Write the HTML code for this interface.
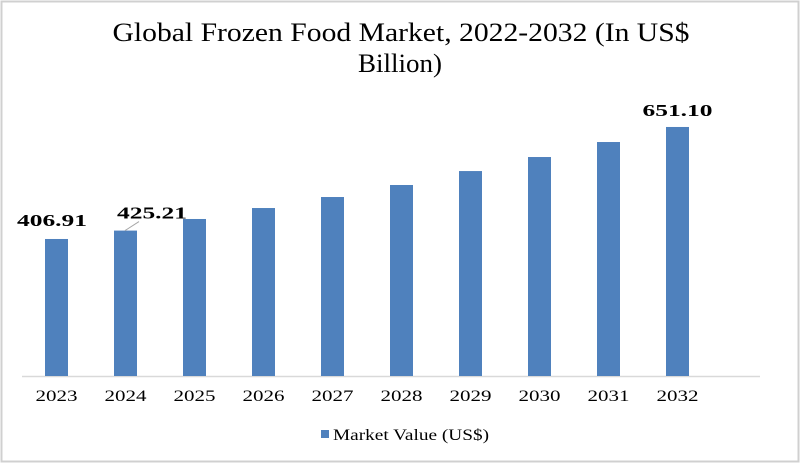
<!DOCTYPE html>
<html><head><meta charset="utf-8"><style>
html,body{margin:0;padding:0;background:#fff}
#c{position:relative;width:800px;height:463px}
</style></head><body>
<div id="c">
<svg id="s" width="800" height="463" xmlns="http://www.w3.org/2000/svg" font-family="'Liberation Serif', serif">
<rect x="1.5" y="1.5" width="797" height="460" fill="#fff" stroke="#d0d0d0" stroke-width="2"/>
<text text-anchor="middle" font-size="26" fill="#000"><tspan x="401" y="41" textLength="577" lengthAdjust="spacingAndGlyphs">Global Frozen Food Market, 2022-2032 (In US$</tspan><tspan x="400" y="72" textLength="84" lengthAdjust="spacingAndGlyphs">Billion)</tspan></text>
<line x1="22" y1="376.5" x2="760" y2="376.5" stroke="#d9d9d9" stroke-width="1.5"/>
<g id="bars"></g>
<rect x="321" y="430" width="8" height="8" fill="#4f81bd"/>
<text x="333" y="440" font-size="16" fill="#000" textLength="156" lengthAdjust="spacingAndGlyphs">Market Value (US$)</text>
</svg>
</div>
<script>
const categories=["2023","2024","2025","2026","2027","2028","2029","2030","2031","2032"];
const values=[406.91,425.21,450.5,474.4,498.4,524.6,555.0,585.6,618.3,651.10];
const labels=["406.91","425.21","","","","","","","","651.10"];
const NS="http://www.w3.org/2000/svg";
const base=376,v0=108.2,k=0.4587;
function y(v){return base-(v-v0)*k;}
function x(i){return 45+i*69;}
const g=document.getElementById('bars');
categories.forEach((c,i)=>{
  const r=document.createElementNS(NS,'rect');
  r.setAttribute('x',x(i));r.setAttribute('y',y(values[i]));
  r.setAttribute('width',23);r.setAttribute('height',base-y(values[i]));
  r.setAttribute('fill','#4f81bd');
  
  
  g.appendChild(r);
  const t=document.createElementNS(NS,'text');
  t.setAttribute('x',x(i)+11.5);t.setAttribute('y',401);
  t.setAttribute('text-anchor','middle');t.setAttribute('font-size','16');
  t.setAttribute('textLength','42');t.setAttribute('lengthAdjust','spacingAndGlyphs');
  t.textContent=c;
  
  
  g.appendChild(t);
  if(labels[i]){
    const l=document.createElementNS(NS,'text');
    let lx=x(i)+11.5, ly=y(values[i])-11;
    if(i===0){lx=x(i)+7;ly=y(values[i])-13;}
    if(i===1){lx=x(i)+38;ly=y(values[i])-12;
      const ln=document.createElementNS(NS,'line');
      ln.setAttribute('x1',x(i)+11);ln.setAttribute('y1',y(values[i]));
      ln.setAttribute('x2',x(i)+25);ln.setAttribute('y2',y(values[i])-9);
      ln.setAttribute('stroke','#a6a6a6');
      
      
      g.appendChild(ln);}
    l.setAttribute('x',lx);l.setAttribute('y',ly);
    l.setAttribute('text-anchor','middle');l.setAttribute('font-size','17');
    l.setAttribute('font-weight','bold');
    l.setAttribute('textLength','70');l.setAttribute('lengthAdjust','spacingAndGlyphs');
    l.textContent=labels[i];
    
    
    g.appendChild(l);
  }
});
</script>
</body></html>
